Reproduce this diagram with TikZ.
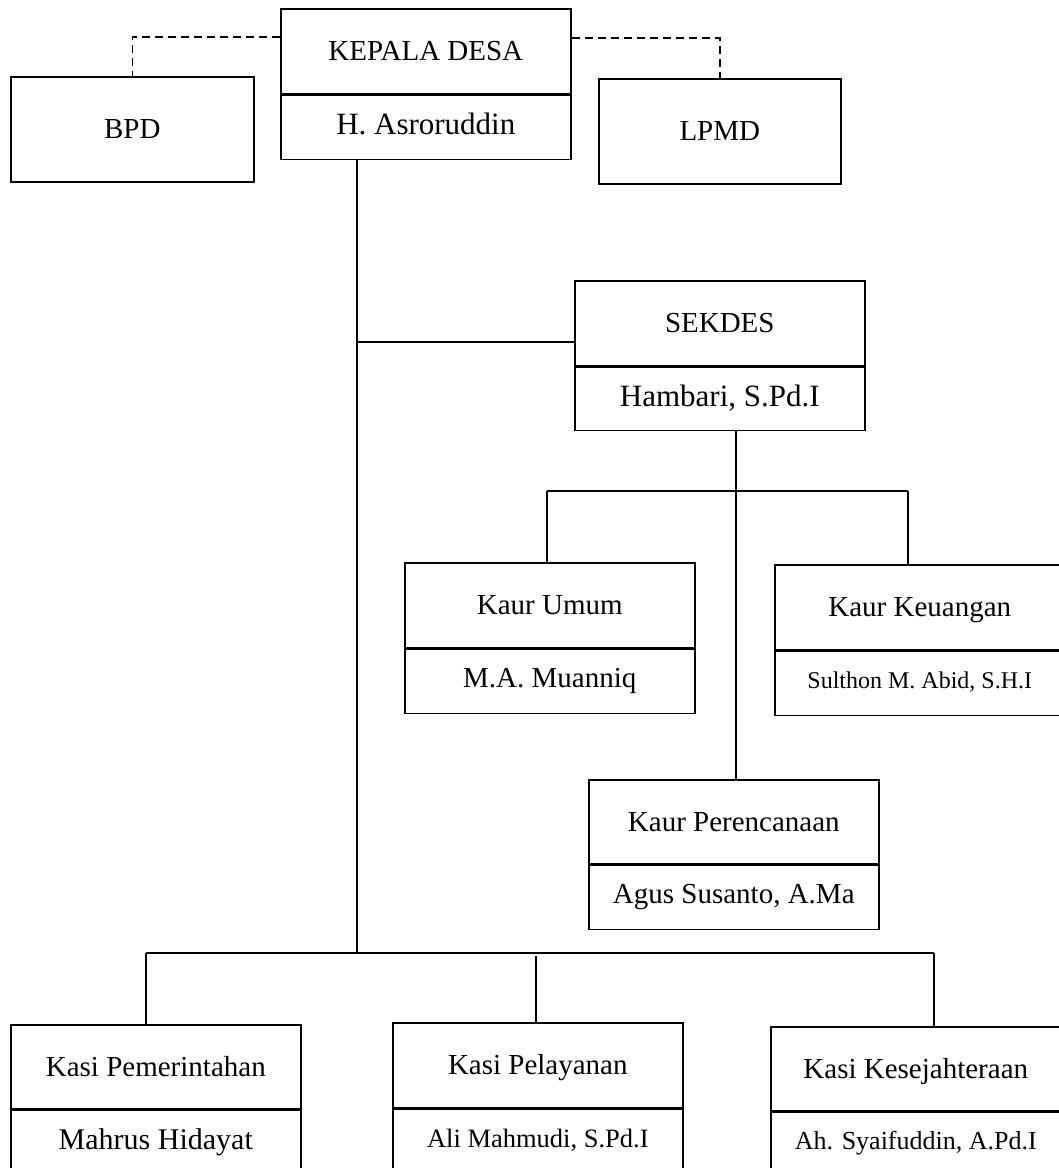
\documentclass[tikz,border=0pt]{standalone}
\usepackage{fontspec}
\setmainfont{Liberation Serif}
\tikzset{
  cell/.style={draw, line width=1.6pt, inner sep=0pt, anchor=north west,
    minimum width=290pt, text height=19pt, text depth=0pt,
    font=\fontsize{29}{34}\selectfont},
  namecell/.style={cell, text depth=6pt},
  link/.style={line width=1.5pt},
  dlink/.style={line width=1.5pt, dash pattern=on 8pt off 5pt},
}
\begin{document}
\begin{tikzpicture}[x=1pt,y=-1pt]
\useasboundingbox (0,0) rectangle (1059,1168);
\clip (0,0) rectangle (1059,1168);

% top row
\node[cell, minimum width=243pt, minimum height=105pt] (bpd) at (10,76) {BPD};
\node[cell, minimum height=85pt] (kd) at (280,8) {KEPALA DESA};
\node[namecell, minimum height=64pt, text height=20.5pt, font=\fontsize{31}{36}\selectfont] (kdn) at (kd.south west) {H. Asroruddin};
\node[cell, minimum width=242pt, minimum height=105pt] (lpmd) at (598,78) {LPMD};

% sekdes
\node[cell, minimum height=85pt] (sek) at (574,280) {SEKDES};
\node[namecell, minimum height=63pt, text height=20.5pt, font=\fontsize{31}{36}\selectfont] (sekn) at (sek.south west) {Hambari, S.Pd.I};

% kaur
\node[cell, minimum height=85pt] (ku) at (404,562) {Kaur Umum};
\node[namecell, minimum height=64pt] (kun) at (ku.south west) {M.A. Muanniq};
\node[cell, minimum height=85pt] (kk) at (774,564) {Kaur Keuangan};
\node[namecell, minimum height=64pt, text height=16pt, font=\fontsize{24}{28}\selectfont] (kkn) at (kk.south west) {Sulthon M. Abid, S.H.I};
\node[cell, minimum height=84pt] (kp) at (588,779) {Kaur Perencanaan};
\node[namecell, minimum height=64pt] (kpn) at (kp.south west) {Agus Susanto, A.Ma};

% kasi
\node[cell, minimum height=84pt] (kpem) at (10,1024) {Kasi Pemerintahan};
\node[namecell, minimum height=64pt, text height=20pt, font=\fontsize{30}{35}\selectfont] (kpemn) at (kpem.south west) {Mahrus Hidayat};
\node[cell, minimum height=85pt] (kpel) at (392,1022) {Kasi Pelayanan};
\node[namecell, minimum height=64pt, text height=17.5pt, font=\fontsize{26.5}{31}\selectfont] (kpeln) at (kpel.south west) {Ali Mahmudi, S.Pd.I};
\node[cell, minimum height=84pt] (kkes) at (770,1026) {Kasi Kesejahteraan};
\node[namecell, minimum height=64pt, text height=17pt, font=\fontsize{26}{30}\selectfont] (kkesn) at (kkes.south west) {Ah. Syaifuddin, A.Pd.I};

% dashed links
\coordinate (dl) at (0,37);
\coordinate (dr) at (0,38);
\draw[dlink] (kd.west |- dl) -| (bpd.north);
\draw[dlink] (kd.east |- dr) -| (lpmd.north);

% spine
\coordinate (spine) at (357,954);
\coordinate (sekh) at (357,342);
\draw[link] (kdn.south -| spine) -- (spine);
\draw[link] (sekh) -- (sek.west |- sekh);

% sekdes branch
\coordinate (sv) at (736,0);
\draw[link] (sekn.south -| sv) -- (kp.north -| sv);
\coordinate (b1) at (547,491);
\coordinate (b2) at (908,491);
\draw[link] (b1) -- (b2);
\draw[link] (b1) -- (ku.north -| b1);
\draw[link] (b2) -- (kk.north -| b2);

% kasi branch
\coordinate (c1) at (146,953);
\coordinate (c2) at (536,956);
\coordinate (c3) at (934,953);
\draw[link, line width=1.9pt] (c1) -- (c3);
\draw[link] (c1) -- (kpem.north -| c1);
\draw[link] (c2) -- (kpel.north -| c2);
\draw[link] (c3) -- (kkes.north -| c3);
\end{tikzpicture}
\end{document}
